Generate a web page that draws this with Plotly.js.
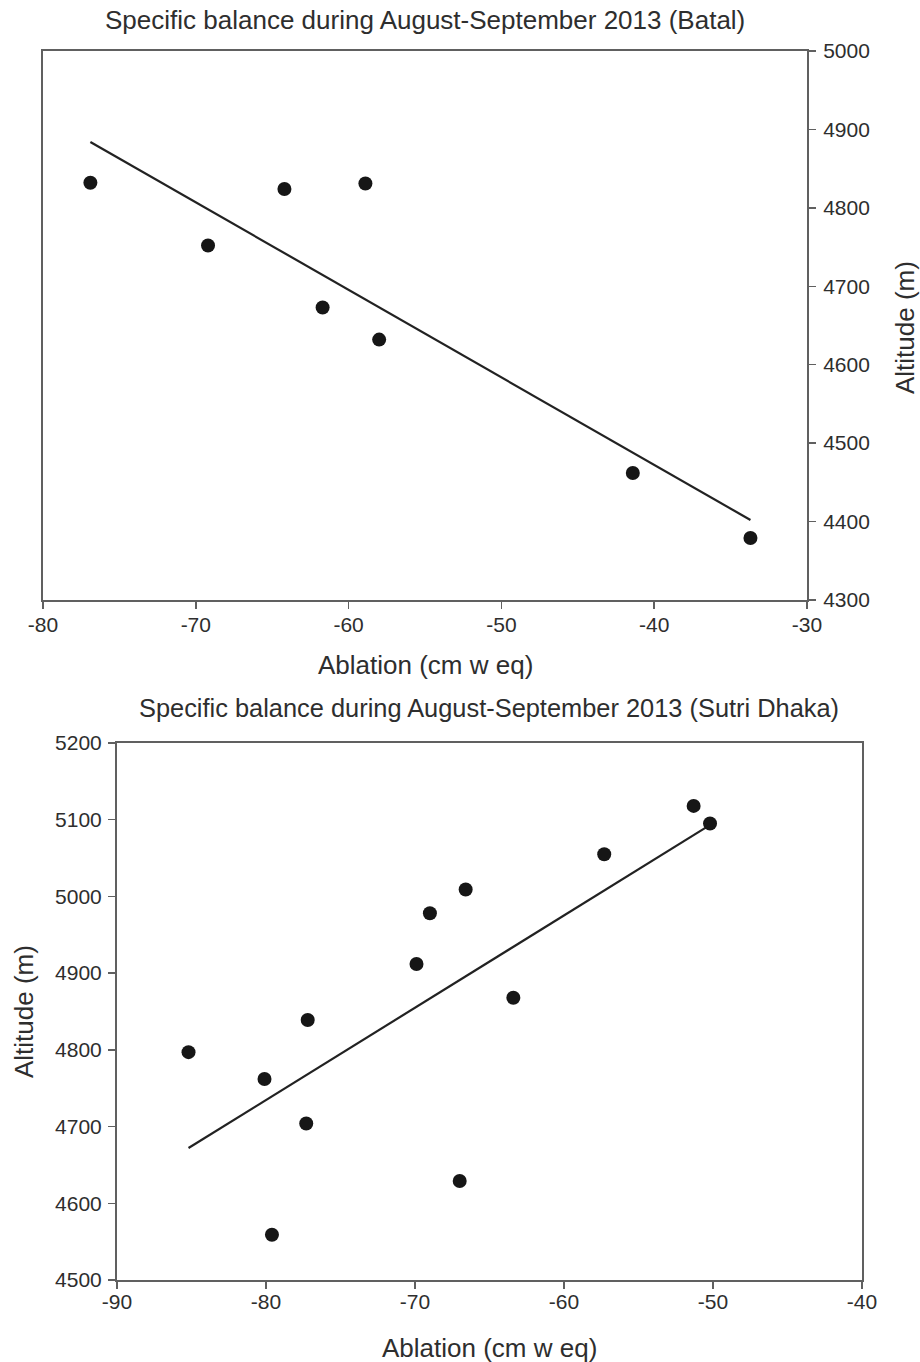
<!DOCTYPE html>
<html>
<head>
<meta charset="utf-8">
<script src="https://cdn.plot.ly/plotly-3.0.1.min.js"></script>
<style>html,body{margin:0;padding:0;background:#fff;}#chart{width:920px;height:1362px;}</style>
</head>
<body>
<div id="chart"></div>
<script>
// Batal (top panel)
var batalAblation = [-76.9, -69.2, -64.2, -58.9, -61.7, -58.0, -41.4, -33.7];
var batalAltitude = [4832, 4752, 4824, 4831, 4673, 4632, 4462, 4379];
var batalFitX = [-76.9, -33.7];
var batalFitY = [4884, 4402];

// Sutri Dhaka (bottom panel)
var sutriAblation = [-85.2, -80.1, -77.2, -77.3, -79.6, -69.9, -69.0, -66.6, -67.0, -63.4, -57.3, -51.3, -50.2];
var sutriAltitude = [4797, 4762, 4839, 4704, 4559, 4912, 4978, 5009, 4629, 4868, 5055, 5118, 5095];
var sutriFitX = [-85.2, -50.3];
var sutriFitY = [4672, 5092];

var topXTicks = [-80, -70, -60, -50, -40, -30];
var topYTicks = [4300, 4400, 4500, 4600, 4700, 4800, 4900, 5000];
var botXTicks = [-90, -80, -70, -60, -50, -40];
var botYTicks = [4500, 4600, 4700, 4800, 4900, 5000, 5100, 5200];

var titleTop = 'Specific balance during August-September 2013 (Batal)';
var titleBottom = 'Specific balance during August-September 2013 (Sutri Dhaka)';
var xTitle = 'Ablation (cm w eq)';
var yTitle = 'Altitude (m)';

var FONT = 'Liberation Sans, Arial, sans-serif';
var TXT = '#2e2e2e';
var AX = '#606060';

var marker = {color: '#161616', size: 14, line: {width: 0}};
var fitLine = {color: '#222222', width: 2.2};

var traces = [
  {x: batalFitX, y: batalFitY, mode: 'lines', line: fitLine, xaxis: 'x', yaxis: 'y', hoverinfo: 'skip'},
  {x: batalAblation, y: batalAltitude, mode: 'markers', marker: marker, xaxis: 'x', yaxis: 'y'},
  {x: sutriFitX, y: sutriFitY, mode: 'lines', line: fitLine, xaxis: 'x2', yaxis: 'y2', hoverinfo: 'skip'},
  {x: sutriAblation, y: sutriAltitude, mode: 'markers', marker: marker, xaxis: 'x2', yaxis: 'y2'}
];

function axisBase(extra) {
  var a = {
    showgrid: false, zeroline: false,
    showline: true, linecolor: AX, linewidth: 2, mirror: true,
    ticks: 'outside', ticklen: 7, tickwidth: 1.5, tickcolor: AX,
    tickfont: {family: FONT, size: 21, color: TXT},
    tickmode: 'array'
  };
  for (var k in extra) a[k] = extra[k];
  return a;
}

var H = 1362, W = 920;
var layout = {
  width: W, height: H,
  margin: {l: 0, r: 0, t: 0, b: 0},
  paper_bgcolor: '#ffffff', plot_bgcolor: '#ffffff',
  showlegend: false,
  font: {family: FONT, color: TXT},
  xaxis: axisBase({domain: [43 / W, 807 / W], range: [-80, -30], tickvals: topXTicks, ticktext: topXTicks.map(String), anchor: 'y', ticklabelstandoff: -2}),
  yaxis: axisBase({domain: [1 - 600 / H, 1 - 51 / H], range: [4300, 5000], tickvals: topYTicks, ticktext: topYTicks.map(String), side: 'right', anchor: 'x', ticklabelstandoff: 3}),
  xaxis2: axisBase({domain: [117 / W, 862 / W], range: [-90, -40], tickvals: botXTicks, ticktext: botXTicks.map(String), anchor: 'y2', ticklabelstandoff: -5}),
  yaxis2: axisBase({domain: [1 - 1280 / H, 1 - 743 / H], range: [4500, 5200], tickvals: botYTicks, ticktext: botYTicks.map(String), side: 'left', anchor: 'x2', ticklabelstandoff: 2}),
  annotations: [
    {text: titleTop, xref: 'paper', yref: 'paper', x: 425 / W, y: 1 - 20 / H, xanchor: 'center', yanchor: 'middle', showarrow: false, font: {family: FONT, size: 26, color: TXT}},
    {text: xTitle, xref: 'paper', yref: 'paper', x: 425 / W, y: 1 - 665 / H, xanchor: 'center', yanchor: 'middle', showarrow: false, font: {family: FONT, size: 26, color: TXT}},
    {text: yTitle, xref: 'paper', yref: 'paper', x: 905 / W, y: 1 - 328 / H, xanchor: 'center', yanchor: 'middle', textangle: -90, showarrow: false, font: {family: FONT, size: 26, color: TXT}},
    {text: titleBottom, xref: 'paper', yref: 'paper', x: 489 / W, y: 1 - 708 / H, xanchor: 'center', yanchor: 'middle', showarrow: false, font: {family: FONT, size: 25.4, color: TXT}},
    {text: xTitle, xref: 'paper', yref: 'paper', x: 489 / W, y: 1 - 1348 / H, xanchor: 'center', yanchor: 'middle', showarrow: false, font: {family: FONT, size: 26, color: TXT}},
    {text: yTitle, xref: 'paper', yref: 'paper', x: 24 / W, y: 1 - 1012 / H, xanchor: 'center', yanchor: 'middle', textangle: -90, showarrow: false, font: {family: FONT, size: 26, color: TXT}}
  ]
};

Plotly.newPlot('chart', traces, layout, {displayModeBar: false, staticPlot: true});
</script>
</body>
</html>
